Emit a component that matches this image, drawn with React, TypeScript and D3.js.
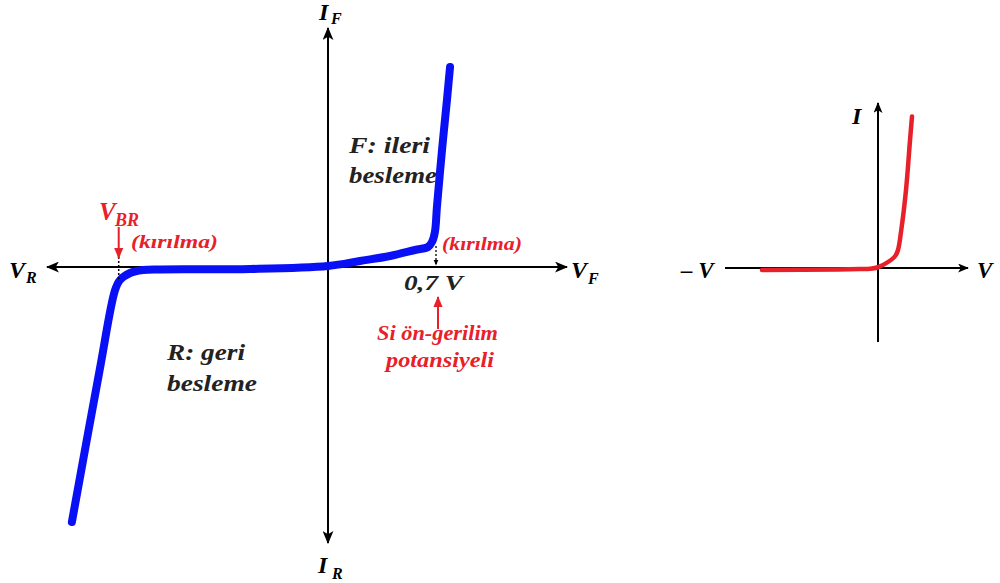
import React from "react";
import * as d3 from "d3";

// Main diode characteristic (blue): voltage (V) and current (arbitrary units)
const blueV = [-1.66, -1.48, -1.38, -1.348, -1.283, -1.199, -1.089, -0.505, 0, 0.207, 0.402, 0.564, 0.648, 0.674, 0.693, 0.706, 0.739, 0.771, 0.791];
const blueI = [-12.75, -5.15, -1.15, -0.65, -0.3, -0.15, -0.12, -0.1, 0.05, 0.3, 0.55, 0.85, 1.0, 1.25, 1.75, 3.0, 5.85, 8.35, 10];

// Small ideal characteristic (red)
const redV = [-2.9, -1.0, -0.45, -0.2, 0, 0.25, 0.43, 0.5, 0.58, 0.7, 0.8, 0.85];
const redI = [-0.13, -0.1, -0.07, -0.05, 0.05, 0.4, 0.8, 1.2, 2.5, 5.2, 8.5, 10.1];

const kneeV = 0.7;
const breakdownV = -1.35;

const FONT = "'Liberation Serif', 'Times New Roman', Times, serif";
const RED = "#e8202a";
const BLUE = "#0a10f5";

export default function App() {
  const x = d3.scaleLinear().domain([0, 0.7]).range([328, 436]);
  const y = d3.scaleLinear().domain([0, 10]).range([267, 67]);
  const xr = d3.scaleLinear().domain([0, 1]).range([878, 918]);
  const yr = d3.scaleLinear().domain([0, 1]).range([268, 253]);

  const blueLine = d3
    .line<number>()
    .x((_, i) => x(blueV[i]))
    .y((d) => y(d))
    .curve(d3.curveCatmullRom.alpha(0.5));
  const redLine = d3
    .line<number>()
    .x((_, i) => xr(redV[i]))
    .y((d) => yr(d))
    .curve(d3.curveCatmullRom.alpha(0.5));

  const ox = x(0);
  const oy = y(0);
  const ts: React.CSSProperties = { fontFamily: FONT, fontWeight: 700, fontStyle: "italic" };
  const st = { lengthAdjust: "spacingAndGlyphs" as const };

  return (
    <svg width={1000} height={583} style={{ position: "absolute", left: 0, top: 0, background: "#fff" }}>
      <defs>
        <marker id="ah" viewBox="0 0 12 10" refX="11" refY="5" markerWidth="13" markerHeight="11" markerUnits="userSpaceOnUse" orient="auto">
          <path d="M0,0 L12,5 L0,10 L3,5 Z" fill="#000" />
        </marker>
        <marker id="ahs" viewBox="0 0 12 10" refX="11" refY="5" markerWidth="11" markerHeight="9" markerUnits="userSpaceOnUse" orient="auto">
          <path d="M0,0 L12,5 L0,10 L3,5 Z" fill="#000" />
        </marker>
        <marker id="ahr" viewBox="0 0 12 10" refX="11" refY="5" markerWidth="11" markerHeight="10" markerUnits="userSpaceOnUse" orient="auto">
          <path d="M0,0 L12,5 L0,10 Z" fill={RED} />
        </marker>
        <marker id="ahk" viewBox="0 0 12 10" refX="11" refY="5" markerWidth="6" markerHeight="6" markerUnits="userSpaceOnUse" orient="auto">
          <path d="M0,0 L12,5 L0,10 Z" fill="#000" />
        </marker>
      </defs>

      {/* Main axes */}
      <line x1={ox} y1={oy} x2={47} y2={oy} stroke="#000" strokeWidth={2} markerEnd="url(#ah)" />
      <line x1={ox} y1={oy} x2={567} y2={oy} stroke="#000" strokeWidth={2} markerEnd="url(#ah)" />
      <line x1={ox} y1={oy} x2={ox} y2={28} stroke="#000" strokeWidth={2} markerEnd="url(#ah)" />
      <line x1={ox} y1={oy} x2={ox} y2={543} stroke="#000" strokeWidth={2} markerEnd="url(#ah)" />

      {/* Blue curve */}
      <path d={blueLine(blueI) || ""} fill="none" stroke={BLUE} strokeWidth={8} strokeLinecap="round" strokeLinejoin="round" />

      {/* dotted markers */}
      <line x1={x(breakdownV) - 1} y1={257} x2={x(breakdownV) - 1} y2={279} stroke="#000" strokeWidth={1.5} strokeDasharray="2,2" />
      <line x1={x(kneeV)} y1={246} x2={x(kneeV)} y2={265} stroke="#000" strokeWidth={1.3} strokeDasharray="2,2" markerEnd="url(#ahk)" />

      {/* axis labels */}
      <text x={319} y={20} fontSize={24} style={ts}>I</text>
      <text x={331} y={24} fontSize={16} style={ts}>F</text>
      <text x={318} y={573} fontSize={24} style={ts}>I</text>
      <text x={332} y={579} fontSize={16} style={ts}>R</text>
      <text x={9} y={278} fontSize={24} style={ts}>V</text>
      <text x={26} y={283} fontSize={16} style={ts}>R</text>
      <text x={571} y={278} fontSize={24} style={ts}>V</text>
      <text x={588} y={284} fontSize={16} style={ts}>F</text>

      {/* region labels */}
      <text x={349} y={153} fontSize={24} fill="#222" style={ts} textLength={81} {...st}>F: ileri</text>
      <text x={349} y={183} fontSize={24} fill="#222" style={ts} textLength={88} {...st}>besleme</text>
      <text x={167} y={360} fontSize={24} fill="#222" style={ts} textLength={78} {...st}>R: geri</text>
      <text x={167} y={391} fontSize={24} fill="#222" style={ts} textLength={90} {...st}>besleme</text>

      {/* 0.7 V */}
      <text x={404} y={290} fontSize={21} fill="#222" style={ts} textLength={59} {...st}>0,7 V</text>
      <line x1={x(kneeV) + 2} y1={329} x2={x(kneeV) + 2} y2={297} stroke={RED} strokeWidth={2} markerEnd="url(#ahr)" />
      <text x={377} y={340} fontSize={20} fill={RED} style={ts} textLength={121} {...st}>Si ön-gerilim</text>
      <text x={386} y={367} fontSize={20} fill={RED} style={ts} textLength={108} {...st}>potansiyeli</text>
      <text x={442} y={250} fontSize={19} fill={RED} style={ts} textLength={80} {...st}>(kırılma)</text>

      {/* V_BR */}
      <text x={99} y={220} fontSize={25} fill={RED} style={ts}>V</text>
      <text x={115} y={226} fontSize={18} fill={RED} style={ts}>BR</text>
      <line x1={x(breakdownV) - 1} y1={227} x2={x(breakdownV) - 1} y2={258} stroke={RED} strokeWidth={2} markerEnd="url(#ahr)" />
      <text x={131} y={248} fontSize={19} fill={RED} style={ts} textLength={87} {...st}>(kırılma)</text>

      {/* Right small chart */}
      <line x1={725} y1={yr(0)} x2={968} y2={yr(0)} stroke="#000" strokeWidth={2} markerEnd="url(#ahs)" />
      <line x1={xr(0)} y1={342} x2={xr(0)} y2={103} stroke="#000" strokeWidth={2} markerEnd="url(#ahs)" />
      <path d={redLine(redI) || ""} fill="none" stroke={RED} strokeWidth={4.5} strokeLinecap="round" strokeLinejoin="round" />
      <text x={852} y={124} fontSize={24} style={ts}>I</text>
      <text x={681} y={278} fontSize={23} style={ts}>– V</text>
      <text x={977} y={278} fontSize={23} style={ts}>V</text>
    </svg>
  );
}
